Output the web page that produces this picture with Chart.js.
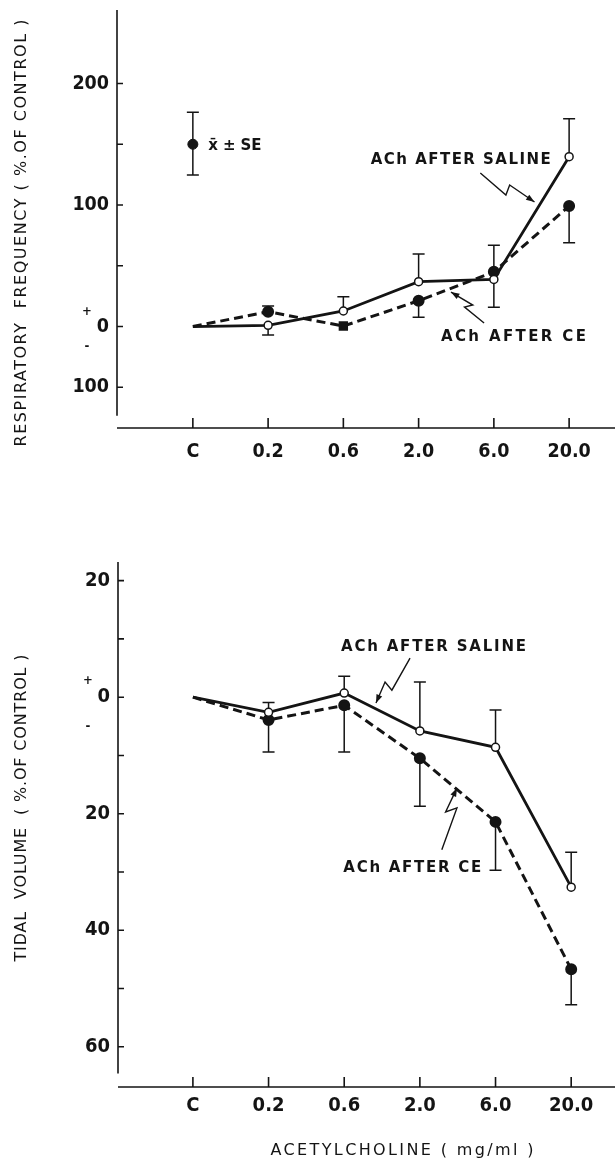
<!DOCTYPE html>
<html>
<head>
<meta charset="utf-8">
<script src="https://cdn.jsdelivr.net/npm/chart.js@4.4.1/dist/chart.umd.min.js"></script>
<style>
  body { margin: 0; background: #fff; }
  canvas { position: absolute; left: 0; }
  #grafico-frecuencia { top: 0; }
  #grafico-volumen { top: 540px; }
</style>
</head>
<body>
<canvas id="grafico-frecuencia" width="615" height="480"></canvas>
<canvas id="grafico-volumen" width="615" height="625"></canvas>
<script>
// categorias del eje X (dosis de acetilcolina)
const categorias = ['C', '0.2', '0.6', '2.0', '6.0', '20.0'];

// frecuencia respiratoria (% del control)
const frecSalina = [0, 1, 12.8, 36.9, 38.8, 139.8];
const frecSalinaError = [[], [-7], [24.5], [59.7], [15.8, 67], [171]];
const frecCE = [0, 12.2, 0.4, 21.2, 45, 99.2];
const frecCEError = [[], [16.9], [], [7.6], [], [69]];
const frecMuestra = [150];
const frecMuestraError = [[176.4, 124.7]];
const ticksFrec = [200, 150, 100, 50, 0, -50];
const etiquetasFrec = ['200', '', '100', '', '0', '100'];

// volumen corriente (% del control)
const volSalina = [0, -2.6, 0.7, -5.8, -8.6, -32.6];
const volSalinaError = [[], [-0.9], [3.6], [2.6], [-2.2], [-26.6]];
const volCE = [0, -3.9, -1.4, -10.5, -21.4, -46.7];
const volCEError = [[], [-9.4], [-9.4], [-18.7], [-29.7], [-52.8]];
const ticksVol = [20, 10, 0, -10, -20, -30, -40, -50, -60];
const etiquetasVol = ['20', '', '0', '', '20', '', '40', '', '60'];

const fuente = '"DejaVu Sans Condensed", "Liberation Sans Narrow", "DejaVu Sans", sans-serif';
const fuenteAncha = '"DejaVu Sans", sans-serif';
const tinta = '#141414';

const puntos = valores => valores.map((v, i) => ({ x: i, y: v }));

// texto estirado con espaciado entre letras hasta un ancho dado
function textoAncho(ctx, texto, cx, cy, ancho) {
  ctx.letterSpacing = '0px';
  const w = ctx.measureText(texto).width;
  const extra = ancho ? (ancho - w) / Math.max(texto.length - 1, 1) : 0;
  ctx.letterSpacing = extra + 'px';
  ctx.textAlign = 'left';
  ctx.fillText(texto, cx - (ancho || w) / 2, cy);
  ctx.letterSpacing = '0px';
}

// ejes separados con marcas hacia dentro
const pluginEjes = {
  id: 'ejes',
  afterDraw(chart, args, opts) {
    const { ctx, chartArea: a, scales: { x, y } } = chart;
    ctx.save();
    ctx.strokeStyle = tinta;
    ctx.lineWidth = 1.6;
    ctx.beginPath();
    ctx.moveTo(a.left, a.top);
    ctx.lineTo(a.left, y.getPixelForValue(opts.finEjeY));
    ctx.moveTo(a.left, a.bottom);
    ctx.lineTo(chart.width, a.bottom);
    opts.ticksY.forEach(v => {
      const py = y.getPixelForValue(v);
      ctx.moveTo(a.left, py);
      ctx.lineTo(a.left + 6, py);
    });
    categorias.forEach((c, i) => {
      const px = x.getPixelForValue(i);
      ctx.moveTo(px, a.bottom);
      ctx.lineTo(px, a.bottom - 10);
    });
    ctx.stroke();
    // signos + y - junto al cero
    const y0 = y.getPixelForValue(0);
    ctx.fillStyle = tinta;
    ctx.font = 'bold 13px ' + fuente;
    ctx.textAlign = 'center';
    ctx.textBaseline = 'middle';
    ctx.fillText('+', a.left - 30, y0 - opts.signos[0]);
    ctx.fillText('-', a.left - 30, y0 + opts.signos[1]);
    ctx.restore();
  }
};

// barras de error de un solo lado (x ± SE)
const pluginBigotes = {
  id: 'bigotes',
  beforeDatasetsDraw(chart) {
    const { ctx, scales: { x, y } } = chart;
    ctx.save();
    ctx.strokeStyle = tinta;
    ctx.lineWidth = 1.5;
    chart.data.datasets.forEach(ds => {
      if (!ds.bigotes) return;
      ds.data.forEach((p, i) => {
        const px = x.getPixelForValue(p.x);
        const py = y.getPixelForValue(p.y);
        (ds.bigotes[i] || []).forEach(fin => {
          const pf = y.getPixelForValue(fin);
          ctx.beginPath();
          ctx.moveTo(px, py);
          ctx.lineTo(px, pf);
          ctx.moveTo(px - 6, pf);
          ctx.lineTo(px + 6, pf);
          ctx.stroke();
        });
      });
    });
    ctx.restore();
  }
};

// rotulos, titulos de ejes y flechas en zigzag
const pluginNotas = {
  id: 'notas',
  afterDraw(chart, args, opts) {
    const { ctx, scales: { x, y } } = chart;
    ctx.save();
    ctx.fillStyle = tinta;
    ctx.strokeStyle = tinta;
    ctx.textBaseline = 'middle';
    (opts.textos || []).forEach(n => {
      ctx.font = n.fuente;
      const px = n.px !== undefined ? n.px : x.getPixelForValue(n.x);
      const py = n.py !== undefined ? n.py : y.getPixelForValue(n.y);
      if (n.rotar) {
        ctx.save();
        ctx.translate(px, py);
        ctx.rotate(-Math.PI / 2);
        textoAncho(ctx, n.texto, 0, 0, n.ancho);
        ctx.restore();
      } else {
        textoAncho(ctx, n.texto, px, py, n.ancho);
      }
    });
    ctx.lineWidth = 1.4;
    (opts.flechas || []).forEach(f => {
      const pts = f.map(([vx, vy]) => [x.getPixelForValue(vx), y.getPixelForValue(vy)]);
      ctx.beginPath();
      pts.forEach(([px, py], i) => i ? ctx.lineTo(px, py) : ctx.moveTo(px, py));
      ctx.stroke();
      const [x1, y1] = pts[pts.length - 2];
      const [x2, y2] = pts[pts.length - 1];
      const ang = Math.atan2(y2 - y1, x2 - x1);
      ctx.beginPath();
      ctx.moveTo(x2, y2);
      ctx.lineTo(x2 - 9 * Math.cos(ang - 0.35), y2 - 9 * Math.sin(ang - 0.35));
      ctx.lineTo(x2 - 9 * Math.cos(ang + 0.35), y2 - 9 * Math.sin(ang + 0.35));
      ctx.closePath();
      ctx.fill();
    });
    ctx.restore();
  }
};

function serieSalina(valores, errores) {
  return {
    data: puntos(valores),
    bigotes: errores,
    borderColor: tinta,
    borderWidth: 2.8,
    pointRadius: valores.map((v, i) => i ? 4 : 0),
    pointBackgroundColor: '#fff',
    pointBorderColor: tinta,
    pointBorderWidth: 1.5,
    order: 1
  };
}

function serieCE(valores, errores, estilos) {
  return {
    data: puntos(valores),
    bigotes: errores,
    borderColor: tinta,
    borderWidth: 3,
    borderDash: [9, 5],
    pointRadius: valores.map((v, i) => i ? 4.5 : 0),
    pointStyle: estilos,
    pointBackgroundColor: tinta,
    pointBorderColor: tinta,
    order: 2
  };
}

function opciones(cfg) {
  return {
    responsive: false,
    animation: false,
    layout: { padding: { top: cfg.margenSup, right: 0, left: 0, bottom: 0 } },
    plugins: {
      legend: { display: false },
      tooltip: { enabled: false },
      ejes: { finEjeY: cfg.finEjeY, ticksY: cfg.ticksY, signos: cfg.signos },
      notas: { textos: cfg.textos, flechas: cfg.flechas }
    },
    scales: {
      x: {
        type: 'linear',
        min: cfg.xMin,
        max: cfg.xMax,
        grid: { display: false, drawTicks: false },
        border: { display: false },
        afterBuildTicks: s => { s.ticks = categorias.map((c, i) => ({ value: i })); },
        afterFit: s => {
          s.height = cfg.altoX;
          s.paddingLeft = 0;
          s.paddingRight = 0;
        },
        ticks: {
          padding: cfg.rellenoX,
          color: tinta,
          font: { family: fuente, size: cfg.tamTicks, weight: 'bold' },
          callback: v => categorias[v]
        }
      },
      y: {
        min: cfg.yMin,
        max: cfg.yMax,
        grid: { display: false, drawTicks: false },
        border: { display: false },
        afterBuildTicks: s => { s.ticks = cfg.ticksY.map(v => ({ value: v })); },
        afterFit: s => {
          s.width = cfg.anchoY;
          s.paddingTop = 0;
          s.paddingBottom = 0;
        },
        ticks: {
          padding: 8,
          color: tinta,
          font: { family: fuente, size: cfg.tamTicks, weight: 'bold' },
          callback: v => cfg.etiquetasY[cfg.ticksY.indexOf(v)]
        }
      }
    }
  };
}

const fuenteNota = 'bold 15px ' + fuenteAncha;
const fuenteTitulo = '16px ' + fuenteAncha;
const complementos = [pluginBigotes, pluginEjes, pluginNotas];

new Chart(document.getElementById('grafico-frecuencia'), {
  type: 'line',
  plugins: complementos,
  data: {
    datasets: [
      serieSalina(frecSalina, frecSalinaError),
      serieCE(frecCE, frecCEError, ['circle', 'circle', 'rect', 'circle', 'circle', 'circle']),
      {
        data: puntos(frecMuestra),
        bigotes: frecMuestraError,
        showLine: false,
        pointRadius: 5,
        pointBackgroundColor: tinta,
        pointBorderColor: tinta,
        order: 0
      }
    ]
  },
  options: opciones({
    margenSup: 10,
    xMin: -1.008, xMax: 5.51,
    yMin: -83.5, yMax: 260.5,
    finEjeY: -73.5,
    ticksY: ticksFrec, etiquetasY: etiquetasFrec,
    anchoY: 117, altoX: 52, rellenoX: 12, tamTicks: 19.5,
    signos: [14.5, 20.5],
    textos: [
      { texto: 'RESPIRATORY  FREQUENCY ( %.OF CONTROL )', px: 22, py: 233, ancho: 427, rotar: true, fuente: fuenteTitulo },
      { texto: 'x\u0304 \u00b1 SE', x: 0.557, y: 148.6, ancho: 53, fuente: fuenteNota },
      { texto: 'ACh AFTER SALINE', x: 3.56, y: 137, ancho: 180, fuente: fuenteNota },
      { texto: 'ACh AFTER CE', x: 4.26, y: -8.6, ancho: 145, fuente: fuenteNota }
    ],
    flechas: [
      [[3.82, 126.3], [4.16, 108.2], [4.21, 116.5], [4.54, 102.5]],
      [[3.87, 2.9], [3.61, 16], [3.72, 17.7], [3.43, 28.4]]
    ]
  })
});

new Chart(document.getElementById('grafico-volumen'), {
  type: 'line',
  plugins: complementos,
  data: {
    datasets: [
      serieSalina(volSalina, volSalinaError),
      serieCE(volCE, volCEError, 'circle')
    ]
  },
  options: opciones({
    margenSup: 22,
    xMin: -0.99, xMax: 5.48,
    yMin: -66.9, yMax: 23.2,
    finEjeY: -64.6,
    ticksY: ticksVol, etiquetasY: etiquetasVol,
    anchoY: 118, altoX: 78, rellenoX: 7, tamTicks: 20,
    signos: [17, 29],
    textos: [
      { texto: 'TIDAL  VOLUME  ( %.OF CONTROL )', px: 22, py: 268, ancho: 307, rotar: true, fuente: fuenteTitulo },
      { texto: 'ACh AFTER SALINE', x: 3.18, y: 8.6, ancho: 185, fuente: fuenteNota },
      { texto: 'ACh AFTER CE', x: 2.9, y: -29.3, ancho: 138, fuente: fuenteNota },
      { texto: 'ACETYLCHOLINE ( mg/ml )', px: 402, py: 611, ancho: 263, fuente: fuenteTitulo }
    ],
    flechas: [
      [[2.87, 6.7], [2.63, 1.2], [2.54, 2.6], [2.42, -1.0]],
      [[3.29, -26.2], [3.49, -19.0], [3.34, -19.7], [3.49, -15.6]]
    ]
  })
});
</script>
</body>
</html>
